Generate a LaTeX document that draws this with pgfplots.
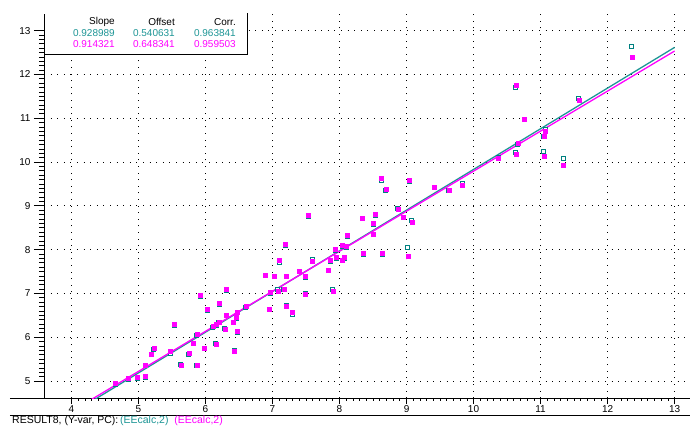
\documentclass[border=0pt]{standalone}
\usepackage{fontspec}
\setmainfont{Liberation Sans}
\usepackage{pgfplots}
\pgfplotsset{compat=1.18}
\definecolor{tealc}{RGB}{0,128,128}
\definecolor{tealt}{RGB}{30,150,150}
\definecolor{magc}{RGB}{255,0,255}
\begin{document}
\begin{tikzpicture}
\useasboundingbox (-44pt,-30pt) rectangle (646pt,398pt);
\begin{axis}[
  at={(0pt,0pt)}, anchor=south west,
  scale only axis, width=646pt, height=384pt,
  xmin=3.59, xmax=13.23, ymin=4.612, ymax=13.38,
  axis lines*=left,
  axis line style={black, line width=0.8pt},
  xtick={4,5,6,7,8,9,10,11,12,13},
  ytick={5,6,7,8,9,10,11,12,13},
  minor x tick num=9, minor y tick num=9,
  tick align=outside,
  major tick length=10pt, minor tick length=5pt,
  xtick style={/pgfplots/major tick length=6pt,/pgfplots/minor tick length=2.5pt},
  tick style={black, line width=0.7pt},
  grid=major,
  major grid style={black, line width=0.9pt, dash pattern=on 0.9pt off 5.7pt},
  /pgf/number format/assume math mode=true,
  ticklabel style={font=\fontsize{10}{11}\selectfont},
  xticklabel style={yshift=6pt},
  clip=true,
]
% regression lines
\addplot[tealt, line width=1.3pt] coordinates {(4.35,4.58173) (13,12.61749)};
\addplot[magc, line width=1.3pt] coordinates {(4.30,4.57992) (13,12.53451)};
% teal open squares
\addplot[only marks, mark=square*, mark size=2pt,
  mark options={draw=tealc, fill=white, line width=0.9pt}] coordinates {
(4.65,4.93) (4.85,5.04) (4.98,5.06) (5.10,5.09) (5.10,5.35) (5.19,5.60)
(5.23,5.73) (5.48,5.64) (5.54,6.27) (5.63,5.37) (5.75,5.61) (5.82,5.85)
(5.87,6.05) (5.87,5.35) (5.92,6.93) (5.98,5.74) (6.03,6.62) (6.11,6.22)
(6.16,6.27) (6.15,5.86) (6.20,6.33) (6.21,6.75) (6.29,6.19) (6.31,7.06)
(6.31,6.49) (6.41,6.33) (6.43,5.70) (6.46,6.43) (6.47,6.11) (6.47,6.56)
(6.60,6.69) (6.89,7.41) (6.95,6.64) (6.97,7.01) (7.03,7.39) (7.08,7.09)
(7.10,7.71) (7.17,7.08) (7.19,8.10) (7.21,6.73) (7.21,7.38) (7.30,6.53)
(7.40,7.50) (7.49,7.37) (7.49,6.99) (7.53,8.76) (7.59,7.77) (7.83,7.52)
(7.86,7.74) (7.90,7.09) (7.94,7.99) (7.95,7.80) (8.04,8.07) (8.04,7.76)
(8.07,7.80) (8.10,8.05) (8.12,8.30) (8.34,8.71) (8.36,7.89) (8.50,8.58)
(8.50,8.34) (8.53,8.79) (8.62,9.57) (8.64,7.89) (8.69,9.35) (8.87,8.93)
(8.95,8.73) (9.02,8.04) (9.04,9.56) (9.08,8.67) (9.41,9.43) (9.63,9.35)
(9.83,9.50) (10.37,10.10) (10.63,11.71) (10.63,10.22) (10.66,10.41)
(10.76,10.98) (11.05,10.58) (11.07,10.74) (11.05,10.24) (11.34,10.08)
(11.57,11.45) (12.36,12.65)
};
% magenta filled squares
\addplot[only marks, mark=square*, mark size=2pt,
  mark options={draw=magc, fill=magc, line width=0.4pt}] coordinates {
(4.65,4.95) (4.85,5.06) (4.98,5.08) (5.10,5.11) (5.10,5.37) (5.19,5.62)
(5.23,5.75) (5.48,5.67) (5.54,6.30) (5.63,5.37) (5.75,5.63) (5.82,5.87)
(5.87,6.07) (5.87,5.35) (5.92,6.96) (5.98,5.74) (6.03,6.64) (6.11,6.24)
(6.16,6.29) (6.16,5.85) (6.20,6.35) (6.21,6.77) (6.29,6.19) (6.31,7.09)
(6.31,6.51) (6.41,6.35) (6.43,5.68) (6.46,6.45) (6.47,6.13) (6.47,6.58)
(6.60,6.71) (6.89,7.42) (6.95,6.64) (6.97,7.02) (7.03,7.40) (7.08,7.06)
(7.10,7.75) (7.17,7.09) (7.19,8.12) (7.21,6.70) (7.21,7.40) (7.30,6.56)
(7.40,7.50) (7.49,7.39) (7.49,6.99) (7.53,8.79) (7.59,7.73) (7.83,7.54)
(7.86,7.76) (7.90,7.06) (7.94,8.01) (7.95,7.82) (8.04,8.09) (8.04,7.76)
(8.07,7.82) (8.10,8.07) (8.12,8.33) (8.34,8.71) (8.36,7.91) (8.50,8.61)
(8.50,8.36) (8.53,8.81) (8.62,9.62) (8.64,7.91) (8.69,9.38) (8.87,8.93)
(8.95,8.75) (9.02,7.86) (9.04,9.58) (9.08,8.63) (9.41,9.43) (9.63,9.35)
(9.83,9.47) (10.37,10.09) (10.63,11.75) (10.63,10.19) (10.66,10.43)
(10.76,10.98) (11.05,10.60) (11.07,10.71) (11.05,10.14) (11.34,9.93)
(11.57,11.41) (12.36,12.39)
};
\end{axis}
% axis line extension and footer
\draw[black, line width=0.8pt] (-34pt,0pt) -- (0pt,0pt);
\draw[black, line width=0.8pt] (-34pt,-17pt) -- (646pt,-17pt);
\node[anchor=west, inner sep=0pt, font=\fontsize{10.5}{12}\selectfont] at (-32pt,-23pt)
  {RESULT8, (Y-var, PC):\,\textcolor{tealt}{(EEcalc,2)}\ \ \textcolor{magc}{(EEcalc,2)}};
% stats box
\fill[white] (0.5pt,384pt) rectangle (203pt,344pt);
\draw[black, line width=0.8pt] (0pt,344pt) -- (203pt,344pt) -- (203pt,385pt);
\begin{scope}[every node/.style={anchor=east, inner sep=0pt, font=\fontsize{10}{12}\selectfont}]
\node at (71pt,376pt) {Slope};
\node at (131pt,376pt) {Offset};
\node at (192pt,376pt) {Corr.};
\node[text=tealt] at (71pt,365pt) {0.928989};
\node[text=tealt] at (131pt,365pt) {0.540631};
\node[text=tealt] at (192pt,365pt) {0.963841};
\node[text=magc] at (71pt,354pt) {0.914321};
\node[text=magc] at (131pt,354pt) {0.648341};
\node[text=magc] at (192pt,354pt) {0.959503};
\end{scope}
\end{tikzpicture}
\end{document}
